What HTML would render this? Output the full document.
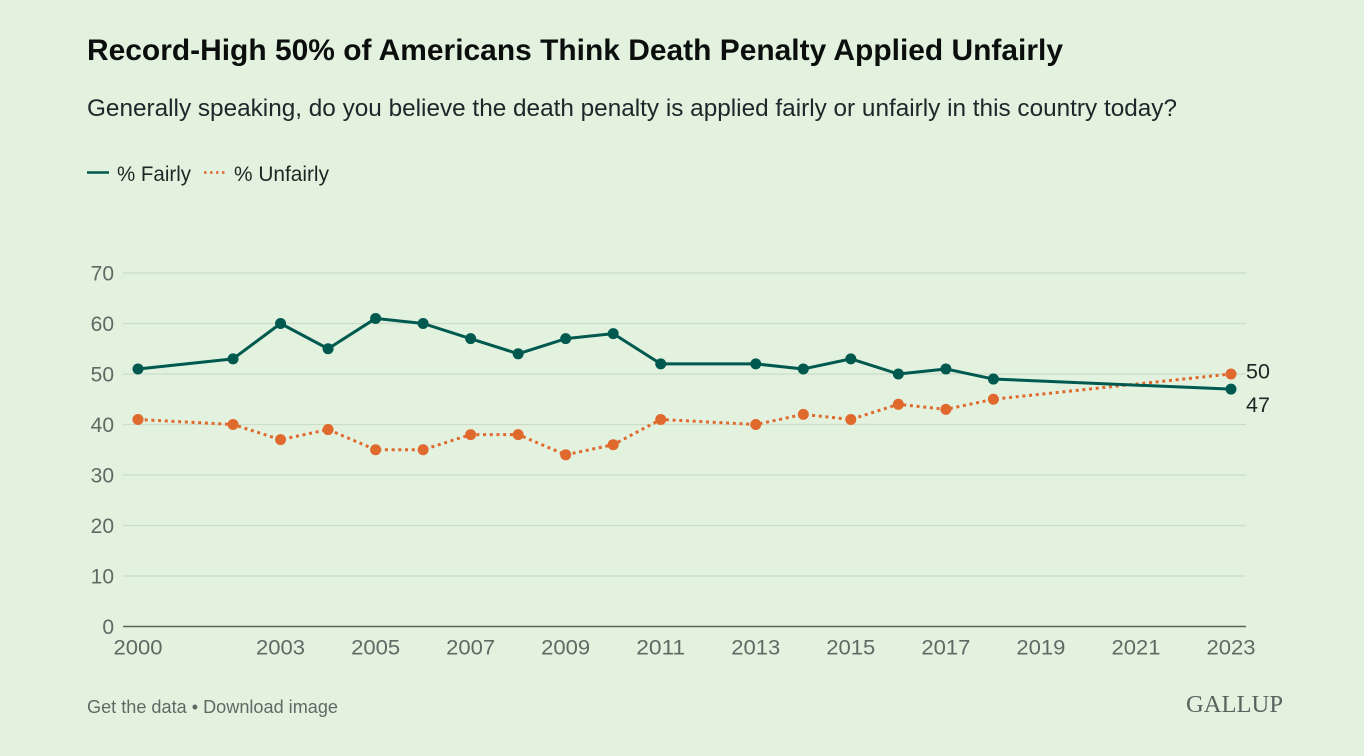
<!DOCTYPE html>
<html lang="en">
<head>
<meta charset="utf-8">
<title>Record-High 50% of Americans Think Death Penalty Applied Unfairly</title>
<style>
html,body{margin:0;padding:0;background:#e3f2df;}
body{width:1364px;height:756px;overflow:hidden;}
svg{display:block;font-family:"Liberation Sans",sans-serif;}
</style>
</head>
<body>
<svg id="chart" width="1364" height="756" viewBox="0 0 1364 756" xmlns="http://www.w3.org/2000/svg">
  <rect x="0" y="0" width="1364" height="756" fill="#e3f2df"/>
  <text x="87" y="60" font-size="29.500" font-weight="700" fill="#0a0f0d" textLength="976" lengthAdjust="spacingAndGlyphs">Record-High 50% of Americans Think Death Penalty Applied Unfairly</text>
  <text x="87" y="116" font-size="24" fill="#20262a" textLength="1090" lengthAdjust="spacingAndGlyphs">Generally speaking, do you believe the death penalty is applied fairly or unfairly in this country today?</text>

  <line x1="87" y1="172.500" x2="109" y2="172.500" stroke="#00594f" stroke-width="2.500"/>
  <text x="117" y="181" font-size="21" fill="#1e2624" textLength="74" lengthAdjust="spacingAndGlyphs">% Fairly</text>
  <line x1="204" y1="172.500" x2="227" y2="172.500" stroke="#e0692e" stroke-width="2.500" stroke-dasharray="2.500 3.500"/>
  <text x="234" y="181" font-size="21" fill="#1e2624" textLength="95" lengthAdjust="spacingAndGlyphs">% Unfairly</text>

  <g id="grid"></g>
  <g id="y-axis"></g>
  <g id="x-axis"></g>
  <g id="series"></g>

  <text x="87" y="713" font-size="18" fill="#5f6a65" textLength="251" lengthAdjust="spacingAndGlyphs">Get the data • Download image</text>
  <text x="1186" y="712" font-size="24" fill="#5a625e" textLength="97" lengthAdjust="spacingAndGlyphs" style="font-family:'Liberation Serif',serif;">GALLUP</text>
</svg>
<script>
const years = [2000, 2002, 2003, 2004, 2005, 2006, 2007, 2008, 2009, 2010, 2011, 2013, 2014, 2015, 2016, 2017, 2018, 2023];
const fairly = [51, 53, 60, 55, 61, 60, 57, 54, 57, 58, 52, 52, 51, 53, 50, 51, 49, 47];
const unfairly = [41, 40, 37, 39, 35, 35, 38, 38, 34, 36, 41, 40, 42, 41, 44, 43, 45, 50];
const yTicks = [0, 10, 20, 30, 40, 50, 60, 70];
const xTicks = [2000, 2003, 2005, 2007, 2009, 2011, 2013, 2015, 2017, 2019, 2021, 2023];

const NS = 'http://www.w3.org/2000/svg';
const xScale = function (year) { return 138 + (year - 2000) * (1231 - 138) / 23; };
const yScale = function (v) { return 626.5 - v * (626.5 - 273) / 70; };

function make(tag, attrs, parent, text) {
  const el = document.createElementNS(NS, tag);
  Object.keys(attrs).forEach(function (k) { el.setAttribute(k, attrs[k]); });
  if (text !== undefined) el.textContent = text;
  parent.appendChild(el);
  return el;
}

const gridGroup = document.getElementById('grid');
const yGroup = document.getElementById('y-axis');
const xGroup = document.getElementById('x-axis');
const seriesGroup = document.getElementById('series');

yTicks.forEach(function (t) {
  const line = make('line', {
    x1: 123, x2: 1246, y1: yScale(t), y2: yScale(t),
    stroke: t === 0 ? '#56625a' : '#cbdcc9',
    'stroke-width': t === 0 ? 1.5 : 1.2
  }, gridGroup);
  
  

  const label = make('text', {
    x: 114, y: yScale(t) + 7.5, 'text-anchor': 'end', 'font-size': 21, fill: '#5f6a65'
  }, yGroup, String(t));
  
  
});

xTicks.forEach(function (t) {
  const label = make('text', {
    x: xScale(t), y: 654.5, 'text-anchor': 'middle', 'font-size': 21, fill: '#5f6a65',
    textLength: 49, lengthAdjust: 'spacingAndGlyphs'
  }, xGroup, String(t));
  
  
});

function drawSeries(name, values, color, dash) {
  const pts = values.map(function (v, i) { return xScale(years[i]) + ',' + yScale(v); }).join(' ');
  const attrs = { points: pts, fill: 'none', stroke: color, 'stroke-width': 3, 'stroke-linejoin': 'round' };
  if (dash) attrs['stroke-dasharray'] = dash;
  const line = make('polyline', attrs, seriesGroup);
  
  
  values.forEach(function (v, i) {
    const dot = make('circle', { cx: xScale(years[i]), cy: yScale(v), r: 5.5, fill: color }, seriesGroup);
    
    
  });
}

drawSeries('unfairly', unfairly, '#e0692e', '3 3.700');
drawSeries('fairly', fairly, '#00594f', null);

const lastX = xScale(years[years.length - 1]);
const lastUnfairly = unfairly[unfairly.length - 1];
const lastFairly = fairly[fairly.length - 1];

const endUnfairly = make('text', {
  x: lastX + 15, y: yScale(lastUnfairly) + 4.5, 'font-size': 21.5, fill: '#1e2624'
}, seriesGroup, String(lastUnfairly));



const endFairly = make('text', {
  x: lastX + 15, y: yScale(lastFairly) + 23, 'font-size': 21.5, fill: '#1e2624'
}, seriesGroup, String(lastFairly));


</script>
</body>
</html>
